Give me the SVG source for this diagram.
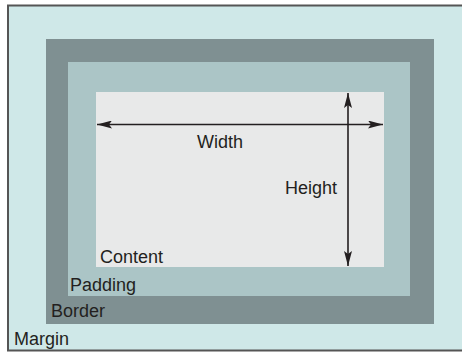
<svg xmlns="http://www.w3.org/2000/svg" width="462" height="353" viewBox="0 0 462 353">
  <defs>
    <style>
      .lbl { font-family: "Liberation Sans", Arial, sans-serif; font-size: 18px; fill: #231f20; }
      .dim { stroke: #231f20; stroke-width: 1.6; fill: none; }
    </style>
    <marker id="ah" viewBox="0 0 15 8" refX="15" refY="4" markerWidth="15" markerHeight="8" markerUnits="userSpaceOnUse" orient="auto-start-reverse">
      <path d="M0,0 L15,4 L0,8 L3,4 Z" fill="#231f20"/>
    </marker>
  </defs>
  <rect width="462" height="353" fill="#ffffff"/>
  <g id="margin">
    <rect x="8" y="5.5" width="460" height="345" fill="#cfe8e8" stroke="#555555" stroke-width="2"/>
    <text class="lbl" x="14" y="345">Margin</text>
  </g>
  <g id="border">
    <rect x="46" y="39" width="388" height="285" fill="#7f9092"/>
    <text class="lbl" x="51" y="317">Border</text>
  </g>
  <g id="padding">
    <rect x="68" y="62" width="342" height="234" fill="#abc5c6"/>
    <text class="lbl" x="70" y="291">Padding</text>
  </g>
  <g id="content">
    <rect x="96" y="92" width="288" height="175" fill="#e8e9e9"/>
    <text class="lbl" x="100" y="263">Content</text>
  </g>
  <g id="connectors">
    <line class="dim" x1="97" y1="124.5" x2="383" y2="124.5" marker-start="url(#ah)" marker-end="url(#ah)"/>
    <line class="dim" x1="348" y1="93" x2="348" y2="266" marker-start="url(#ah)" marker-end="url(#ah)"/>
  </g>
  <g id="labels">
    <text class="lbl" x="197" y="148">Width</text>
    <text class="lbl" x="285" y="194">Height</text>
  </g>
</svg>
